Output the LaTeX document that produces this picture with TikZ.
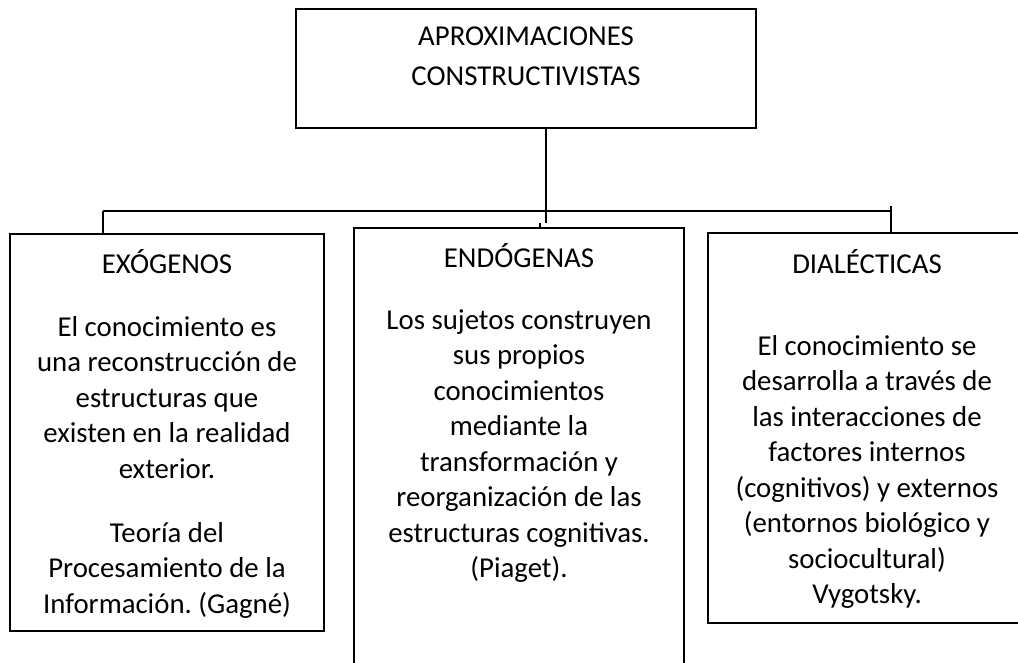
\documentclass[tikz,border=0pt]{standalone}
\usepackage{fontspec}
\setmainfont{Carlito}
\usetikzlibrary{calc}
\tikzset{
  boxnode/.style={draw=black, line width=2pt, fill=none, inner sep=0pt},
  conn/.style={draw=black, line width=2pt},
  txt/.style={anchor=base, inner sep=0pt},
}
\frenchspacing
\newcommand{\bodytext}[2]{\parbox[t]{#1}{\centering\frenchspacing\fontsize{28.8}{35.5}\selectfont #2}}
\newcommand{\titletext}[2]{\parbox[t]{#1}{\centering\fontsize{28.8}{40}\selectfont #2}}
\begin{document}
\begin{tikzpicture}[x=1pt,y=-1pt]
\useasboundingbox (0,0) rectangle (1018,662);
\fill[white] (0,0) rectangle (1018,662);
\clip (0,0) rectangle (1018,662);
% boxes
\node[boxnode, line width=2.4pt, minimum width=460pt, minimum height=119pt] (top) at (526,68.5) {};
\node[boxnode, minimum width=314pt, minimum height=397pt] (left) at (167,432.5) {};
\node[boxnode, minimum width=330pt, minimum height=472pt] (mid) at (519,464) {};
\node[boxnode, minimum width=318pt, minimum height=390pt] (right) at (867,428) {};
% connectors
\coordinate (hl) at (103,211);
\coordinate (hr) at (891,211);
\coordinate (hc) at (546,211);
\coordinate (tk) at (540,223);
\coordinate (hrt) at (891,206);
\draw[conn] (top.south -| hc) -- (hc) -- ($(hc)+(0,12)$);
\draw[conn] (hl) -- (hr);
\draw[conn] (hl) -- (hl |- left.north);
\draw[conn] (hrt) -- (hrt |- right.north);
\draw[conn, line width=1.5pt] (tk) -- (tk |- mid.north);
% texts
\node[txt] (ttitle) at (526,45) {\titletext{440pt}{APROXIMACIONES\\CONSTRUCTIVISTAS}};
\node[txt] (lhead) at (167,273) {\bodytext{300pt}{EXÓGENOS}};
\node[txt] (lbody) at (167,336) {\bodytext{300pt}{El conocimiento es\\una reconstrucción de\\estructuras que\\existen en la realidad\\exterior.}};
\node[txt] (lfoot) at (167,542) {\bodytext{300pt}{Teoría del\\Procesamiento de la\\Información. (Gagné)}};
\node[txt] (mhead) at (519,267) {\bodytext{320pt}{ENDÓGENAS}};
\node[txt] (mbody) at (519,329) {\bodytext{320pt}{Los sujetos construyen\\sus propios\\conocimientos\\mediante la\\transformación y\\reorganización de las\\estructuras cognitivas.\\(Piaget).}};
\node[txt] (rhead) at (867,273) {\bodytext{310pt}{DIALÉCTICAS}};
\node[txt] (rbody) at (867,355) {\bodytext{310pt}{El conocimiento se\\desarrolla a través de\\las interacciones de\\factores internos\\(cognitivos) y externos\\(entornos biológico y\\sociocultural)\\Vygotsky.}};
\end{tikzpicture}
\end{document}
